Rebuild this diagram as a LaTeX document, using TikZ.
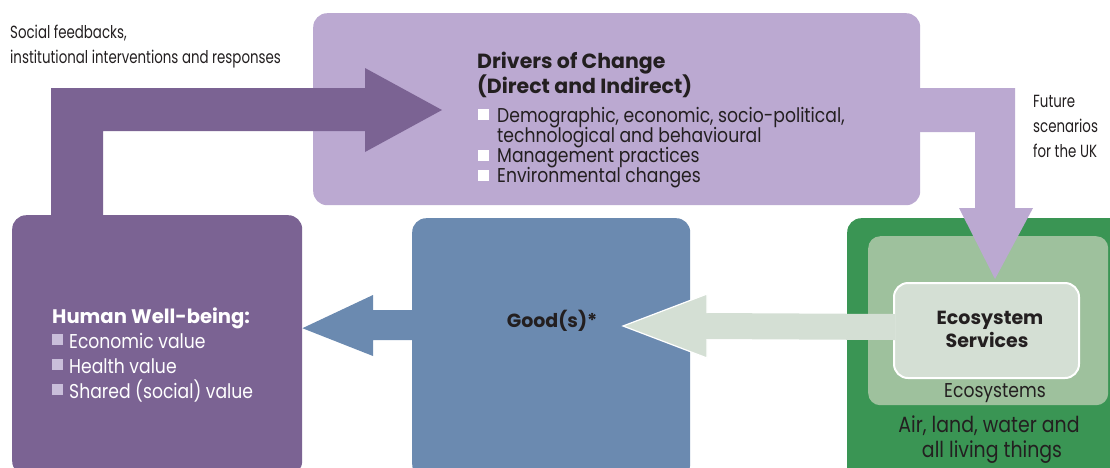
\documentclass[tikz,border=0pt]{standalone}
\usepackage{fontspec}
\setmainfont{Poppins}[FakeStretch=0.86]
\newfontfamily\headfont{Poppins}
\newfontfamily\notefont{Poppins}[FakeStretch=0.76]
\usetikzlibrary{calc}
\definecolor{plum}{HTML}{7B6393}
\definecolor{lilac}{HTML}{BBA9D1}
\definecolor{steel}{HTML}{6B8AB0}
\definecolor{forest}{HTML}{3A9554}
\definecolor{sage}{HTML}{9EC19D}
\definecolor{mist}{HTML}{D4DFD4}
\definecolor{ink}{HTML}{231F20}
\definecolor{chip}{HTML}{C9BEDA}
\newcommand\notetext{\notefont\fontsize{17.6}{20}\selectfont}
\newcommand\regtext{\fontsize{20}{23}\selectfont}
\newcommand\bigtext{\fontsize{22}{25}\selectfont}
\newcommand\boldtext[1]{\headfont\fontsize{#1}{23}\selectfont\bfseries}
\begin{document}
\begin{tikzpicture}[x=1pt,y=-1pt,
  panel/.style={rounded corners=14pt, inner sep=0pt, anchor=north west, draw=none},
  label/.style={inner sep=0pt, anchor=base west, text=ink, font=\regtext},
  note/.style={label, font=\notetext},
  heading/.style={label, font=\boldtext{20.5}},
  centred/.style={inner sep=0pt, anchor=base, text=ink, font=\regtext},
  sq/.style={inner sep=0pt, minimum size=11pt, anchor=south west, draw=none}
]
\useasboundingbox (0,0) rectangle (1110,467);
\begin{scope}
\clip (0,0) rectangle (1110,467);

% panels
\node[panel, fill=lilac, minimum width=607pt, minimum height=192pt] (drivers) at (313,13) {};
\node[panel, fill=plum, minimum width=290pt, minimum height=260pt] (hwb) at (12,215) {};
\node[panel, fill=steel, minimum width=278pt, minimum height=260pt] (goods) at (412,218) {};
\node[panel, fill=forest, minimum width=300pt, minimum height=270pt] (earth) at (847,218) {};
\node[panel, fill=sage, rounded corners=12pt, minimum width=240pt, minimum height=169pt] (ecosys) at (868,236) {};
\node[panel, fill=mist, draw=white, line width=2pt, minimum width=185pt, minimum height=95pt] (services) at (893,282) {};

% feedback arrow from well-being to drivers
\coordinate (fbtip) at (442,110);
\fill[plum] ($(hwb.north west)+(39,2)$) |- (365,88) -- (365,68) -- (fbtip)
  -- (365,152) -- (365,131) -| ($(hwb.north west)+(91,2)$) -- cycle;

% scenario arrow from drivers to ecosystem services
\coordinate (futtip) at (995,279);
\fill[lilac] ($(drivers.east)+(-5,-21)$) -- (1015,88) -- (1015,208) -- (1033,208)
  -- (futtip) -- (959,208) -- (975,208) -- (975,132) -- ($(drivers.east)+(-5,23)$) -- cycle;

% goods to well-being
\fill[steel] ($(goods.north west)+(2,92)$) -- (373,310) -- (373,295) -- ($(hwb.east)+(0,-17)$)
  -- (373,356) -- (373,340) -- ($(goods.north west)+(2,122)$) -- cycle;

% services to goods
\coordinate (svtip) at (623,326);
\fill[mist] ($(services.west)+(2,-16.5)$) -- (707,313) -- (707,294) -- (svtip)
  -- (707,358) -- (707,339) -- ($(services.west)+(2,9.5)$) -- cycle;
\draw[white, line width=1.2pt, line join=miter] (707,313) -- (707,294) -- (svtip) -- (707,358) -- (707,339);
\end{scope}

% texts
\node[note] (fb1) at (10,38) {Social feedbacks,};
\node[note] (fb2) at (10,63) {institutional interventions and responses};

\node[note] (fut1) at (1033,107) {Future};
\node[note] (fut2) at (1033,132) {scenarios};
\node[note] (fut3) at (1033,157) {for the UK};

\node[heading] (dh1) at (477,68) {Drivers of Change};
\node[heading] (dh2) at (477,93) {(Direct and Indirect)};
\node[sq, fill=white] (db1) at (478,120) {};
\node[label] (dt1) at (497,122) {Demographic, economic, socio-political,};
\node[label] (dt1b) at (497,142) {technological and behavioural};
\node[sq, fill=white] (db2) at (478,161) {};
\node[label] (dt2) at (497,162) {Management practices};
\node[sq, fill=white] (db3) at (478,181) {};
\node[label] (dt3) at (497,182) {Environmental changes};

\node[heading, text=white, font=\boldtext{19.6}] (hh) at (52,323) {Human Well-being:};
\node[sq, fill=chip] (hb1) at (52,345) {};
\node[label, text=white] (ht1) at (69,348) {Economic value};
\node[sq, fill=chip] (hb2) at (52,370) {};
\node[label, text=white] (ht2) at (69,373) {Health value};
\node[sq, fill=chip] (hb3) at (52,395) {};
\node[label, text=white] (ht3) at (69,398) {Shared (social) value};

\node[centred, font=\boldtext{19}] (gt) at (552,327) {Good(s)*};

\node[centred, font=\boldtext{19}] (st1) at (990,324) {Ecosystem};
\node[centred, font=\boldtext{19}] (st2) at (987,347) {Services};
\node[centred] (et) at (995,397) {Ecosystems};
\node[centred, font=\bigtext] (at1) at (989,432) {Air, land, water and};
\node[centred, font=\bigtext] (at2) at (992,457) {all living things};
\end{tikzpicture}
\end{document}
